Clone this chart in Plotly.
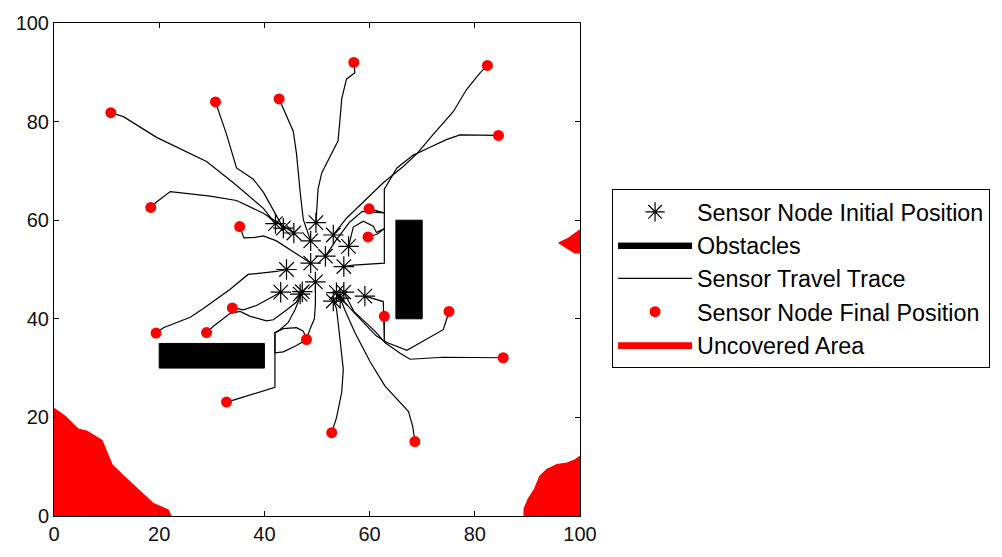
import plotly.graph_objects as go

# Sensor initial positions (black asterisks)
init_x = [42.1, 43.6, 45.6, 49.8, 53.1, 48.8, 55.1, 48.8, 51.6, 56.0,
          44.2, 43.1, 47.2, 46.8, 49.7, 59.1, 53.1, 54.4, 53.7, 55.1]
init_y = [59.3, 58.4, 57.4, 59.5, 57.0, 55.8, 50.6, 51.3, 52.7, 54.7,
          50.0, 45.4, 45.5, 45.0, 47.5, 44.6, 43.6, 44.2, 45.3, 45.4]

# Sensor final positions (red dots)
final_x = [10.8, 30.7, 18.4, 57.0, 82.4, 42.8, 84.5, 35.3, 59.9, 59.7,
           19.4, 33.9, 32.8, 29.0, 48.0, 62.8, 52.8, 68.6, 75.1, 85.4]
final_y = [81.8, 84.0, 62.6, 92.0, 91.4, 84.6, 77.2, 58.7, 62.3, 56.6,
           37.1, 42.2, 23.1, 37.2, 35.8, 40.5, 16.9, 15.1, 41.5, 32.1]

# Intermediate waypoints of each sensor's travel trace
trace_01 = [(39.8, 62.4), (34.1, 67.6), (29.0, 71.9), (19.5, 76.8), (13.2, 81.0)]
trace_02 = [(39.8, 65.7), (37.9, 68.3), (34.7, 70.6), (32.8, 77.4), (31.2, 82.7)]
trace_03 = [(39.8, 61.4), (34.7, 64.0), (29.7, 64.9), (22.1, 65.8), (19.5, 63.7)]
trace_04 = [(49.9, 61.1), (50.2, 66.3), (50.9, 69.6), (52.5, 72.9), (54.0, 76.1),
            (54.4, 80.7), (54.7, 84.6), (55.6, 88.6), (57.2, 89.9)]
trace_05 = [(55.6, 60.4), (58.8, 63.7), (62.6, 67.6), (66.4, 70.9), (69.0, 73.5),
            (72.1, 77.4), (75.9, 82.0), (78.5, 86.6), (81.0, 89.9)]
trace_06 = [(47.4, 60.1), (46.8, 65.7), (46.1, 73.5), (45.5, 78.0), (43.3, 83.6)]
trace_07 = [(56.9, 50.9), (62.8, 51.3), (62.8, 66.3), (65.2, 70.6), (68.3, 73.2),
            (71.5, 74.8), (74.7, 76.4), (77.2, 77.3)]
trace_08 = [(42.3, 55.8), (39.8, 56.8), (38.2, 56.5), (36.1, 56.4), (35.7, 57.5)]
trace_09 = [(53.6, 55.9), (56.2, 59.6), (58.6, 61.8), (62.8, 61.5)]
trace_10 = [(56.9, 58.6), (58.8, 59.8), (60.7, 58.8), (61.3, 57.5), (62.8, 58.3),
            (61.5, 57.2)]
trace_11 = [(42.3, 49.6), (36.9, 49.0), (33.5, 46.0), (28.4, 42.1), (25.9, 40.3),
            (20.8, 38.2)]
trace_12 = [(38.5, 42.7), (36.0, 41.8)]
trace_13 = [(45.8, 41.8), (44.5, 39.2), (42.6, 37.5), (42.0, 37.2), (42.0, 26.1),
            (34.1, 23.5)]
trace_14 = [(46.1, 43.4), (44.2, 41.8), (41.7, 39.8), (40.4, 39.6), (37.3, 40.5),
            (35.4, 41.5), (33.5, 41.1), (30.3, 38.5)]
trace_15 = [(49.7, 43.0), (49.5, 40.0), (48.7, 38.0), (48.0, 35.8), (46.1, 34.6),
            (43.6, 33.3), (42.0, 33.1), (42.0, 37.2), (43.6, 38.0), (46.1, 38.2),
            (47.4, 37.5)]
trace_16 = [(62.6, 43.5), (62.8, 35.3)]
trace_17 = [(53.7, 42.1), (54.4, 35.6), (55.0, 29.7), (54.7, 25.1), (53.7, 19.9)]
trace_18 = [(55.3, 41.8), (57.2, 37.2), (60.1, 31.3), (62.9, 26.4), (65.8, 23.1),
            (67.4, 21.2), (68.2, 18.2)]
trace_19 = [(56.3, 42.1), (61.3, 36.5), (63.3, 35.2), (67.1, 33.6), (71.5, 36.2),
            (74.0, 37.8), (74.7, 40.1)]
trace_20 = [(57.0, 41.5), (61.0, 37.5), (62.9, 35.2), (65.8, 33.0), (67.7, 31.8),
            (74.0, 32.2)]
trace_waypoints = [trace_01, trace_02, trace_03, trace_04, trace_05, trace_06, trace_07,
                   trace_08, trace_09, trace_10, trace_11, trace_12, trace_13, trace_14,
                   trace_15, trace_16, trace_17, trace_18, trace_19, trace_20]

# Obstacles (rectangles: x0, x1, y0, y1)
obstacle_1 = (20, 40, 30, 35)
obstacle_2 = (65, 70, 40, 60)

# Uncovered area boundaries
uncovered_ll_x = [0, 0, 2.1, 4.6, 6.2, 9.1, 10.0, 11.0, 13.2, 16.3, 18.9, 21.7, 22.2]
uncovered_ll_y = [0, 21.8, 20.2, 17.6, 17.2, 15.3, 13.0, 10.4, 8.1, 5.1, 2.5, 1.2, 0]
uncovered_lr_x = [89.4, 100, 100, 99.0, 97.5, 95.6, 93.7, 92.4, 91.4, 90.2, 89.4]
uncovered_lr_y = [0, 0, 12.1, 11.3, 10.7, 10.4, 9.4, 8.1, 5.5, 3.5, 1.5]
uncovered_r_x = [100, 97.8, 96.0, 97.6, 99.0, 100]
uncovered_r_y = [58.0, 56.3, 55.4, 54.4, 53.4, 53.4]

FONT = "Liberation Sans, Arial, sans-serif"

fig = go.Figure()

# Obstacles
ox, oy = [], []
for (x0, x1, y0, y1) in [obstacle_1, obstacle_2]:
    ox += [x0, x1, x1, x0, x0, None]
    oy += [y0, y0, y1, y1, y0, None]
fig.add_trace(go.Scatter(x=ox, y=oy, mode="lines", fill="toself", fillcolor="black",
                         line=dict(color="black", width=1), name="Obstacles",
                         legendrank=2))

# Travel traces
tx, ty = [], []
for i, wp in enumerate(trace_waypoints):
    tx += [init_x[i]] + [p[0] for p in wp] + [final_x[i], None]
    ty += [init_y[i]] + [p[1] for p in wp] + [final_y[i], None]
fig.add_trace(go.Scatter(x=tx, y=ty, mode="lines", line=dict(color="black", width=1.2),
                         name="Sensor Travel Trace", legendrank=3))

# Initial positions
fig.add_trace(go.Scatter(x=init_x, y=init_y, mode="markers",
                         marker=dict(symbol="asterisk-open", size=17, color="black",
                                     line=dict(color="black", width=1.2)),
                         name="Sensor Node Initial Position", legendrank=1))

# Final positions
fig.add_trace(go.Scatter(x=final_x, y=final_y, mode="markers",
                         marker=dict(symbol="circle", size=11, color="red",
                                     line=dict(color="red", width=0)),
                         name="Sensor Node Final Position", legendrank=4))

# Uncovered area
ux = uncovered_ll_x + [uncovered_ll_x[0], None] + uncovered_lr_x + [uncovered_lr_x[0], None] + uncovered_r_x + [uncovered_r_x[0]]
uy = uncovered_ll_y + [uncovered_ll_y[0], None] + uncovered_lr_y + [uncovered_lr_y[0], None] + uncovered_r_y + [uncovered_r_y[0]]
fig.add_trace(go.Scatter(x=ux, y=uy, mode="lines", fill="toself", fillcolor="red",
                         line=dict(color="red", width=1.5), name="Uncovered Area",
                         legendrank=5))

axis_common = dict(range=[0, 100], tickvals=[0, 20, 40, 60, 80, 100], ticks="inside",
                   ticklen=5, tickcolor="black", mirror="ticks", showline=True,
                   linecolor="black", linewidth=1, showgrid=False, zeroline=False,
                   tickfont=dict(family=FONT, size=20, color="#111"))

fig.update_layout(
    width=1002, height=557,
    margin=dict(l=54, r=422, t=15, b=33),
    paper_bgcolor="white", plot_bgcolor="white",
    xaxis=axis_common, yaxis=axis_common,
    showlegend=True,
    legend=dict(x=1.061, y=0.663, xanchor="left", yanchor="top",
                bordercolor="black", borderwidth=1, bgcolor="white",
                font=dict(family=FONT, size=23.3, color="black"),
                itemsizing="trace", itemwidth=74, tracegroupgap=0),
)

fig.write_html("out.html")
